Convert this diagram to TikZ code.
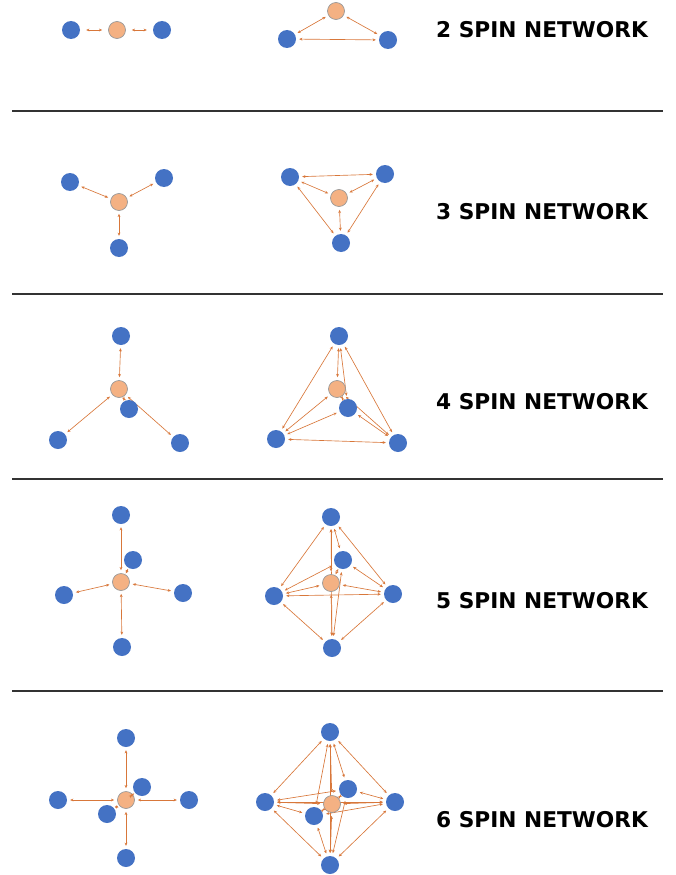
\documentclass[tikz,border=0pt]{standalone}
\usepackage{fontspec}
\setmainfont{DejaVu Sans}
\usetikzlibrary{arrows.meta,backgrounds}
\definecolor{sblue}{HTML}{4472C4}
\definecolor{sorange}{HTML}{F4B183}
\definecolor{sline}{HTML}{D8773A}
\begin{document}
\begin{tikzpicture}[x=1pt,y=-1pt,
  spin/.style={circle,fill=sblue,draw=none,minimum size=18pt,inner sep=0pt},
  ctr/.style={circle,fill=sorange,draw=black!40,line width=0.7pt,minimum size=17pt,inner sep=0pt},
  link/.style={draw=sline,line width=0.65pt,{Stealth[length=3.2pt,width=2.8pt]}-{Stealth[length=3.2pt,width=2.8pt]},shorten <=3pt,shorten >=3pt},
  nettitle/.style={font=\bfseries\fontsize{21.7}{26}\selectfont,inner sep=0pt},
  sepline/.style={line width=1.2pt,draw=black!80}]
\useasboundingbox (0,0) rectangle (675,875);

% separators
\draw[sepline] (12,111) -- (663,111);
\draw[sepline] (12,294) -- (663,294);
\draw[sepline] (12,479) -- (663,479);
\draw[sepline] (12,691) -- (663,691);

% titles
\node[nettitle] (t2) at (542,30) {2 SPIN NETWORK};
\node[nettitle] (t3) at (542,212) {3 SPIN NETWORK};
\node[nettitle] (t4) at (542,402) {4 SPIN NETWORK};
\node[nettitle] (t5) at (542,601) {5 SPIN NETWORK};
\node[nettitle] (t6) at (542,820) {6 SPIN NETWORK};

% ---------- 2 spin ----------
\node[spin] (aL1) at (71,30) {};
\node[ctr]  (aLo) at (117,30) {};
\node[spin] (aL2) at (162,30) {};
\draw[link,shorten <=6pt,shorten >=6pt] (aL1) -- (aLo);
\draw[link,shorten <=6pt,shorten >=6pt] (aLo) -- (aL2);

\node[ctr]  (aRo) at (336,11) {};
\node[spin] (aR1) at (287,39) {};
\node[spin] (aR2) at (388,40) {};
\begin{scope}[on background layer]
\foreach \p/\q in {aRo/aR1,aRo/aR2,aR1/aR2} \draw[link] (\p) -- (\q);
\end{scope}

% ---------- 3 spin ----------
\node[spin] (bL1) at (70,182) {};
\node[spin] (bL2) at (164,178) {};
\node[ctr]  (bLo) at (119,202) {};
\node[spin] (bL3) at (119,248) {};
\begin{scope}[on background layer]
\foreach \q in {bL1,bL2,bL3} \draw[link] (bLo) -- (\q);
\end{scope}

\node[spin] (bR1) at (290,177) {};
\node[spin] (bR2) at (385,174) {};
\node[ctr]  (bRo) at (339,198) {};
\node[spin] (bR3) at (341,243) {};
\begin{scope}[on background layer]
\foreach \p/\q in {bR1/bR2,bR1/bRo,bR1/bR3,bR2/bRo,bR2/bR3,bRo/bR3} \draw[link] (\p) -- (\q);
\end{scope}

% ---------- 4 spin ----------
\node[spin] (cLt) at (121,336) {};
\node[ctr]  (cLo) at (119,389) {};
\node[spin] (cLm) at (129,409) {};
\node[spin] (cLl) at (58,440) {};
\node[spin] (cLr) at (180,443) {};
\begin{scope}[on background layer]
\foreach \q in {cLt,cLl,cLr} \draw[link] (cLo) -- (\q);
\end{scope}
\draw[link,shorten <=1pt,shorten >=1pt] (cLo) -- (cLm);

\node[spin] (cRt) at (339,336) {};
\node[ctr]  (cRo) at (337,389) {};
\node[spin] (cRm) at (348,408) {};
\node[spin] (cRl) at (276,439) {};
\node[spin] (cRr) at (398,443) {};
\begin{scope}[on background layer]
\foreach \p/\q in {cRt/cRo,cRt/cRm,cRt/cRl,cRt/cRr,cRo/cRl,cRo/cRr,cRm/cRl,cRm/cRr,cRl/cRr} \draw[link] (\p) -- (\q);
\end{scope}
\draw[link,shorten <=1pt,shorten >=1pt] (cRo) -- (cRm);

% ---------- 5 spin ----------
\node[spin] (dLt) at (121,515) {};
\node[spin] (dLm) at (133,560) {};
\node[ctr]  (dLo) at (121,582) {};
\node[spin] (dLl) at (64,595) {};
\node[spin] (dLr) at (183,593) {};
\node[spin] (dLb) at (122,647) {};
\begin{scope}[on background layer]
\foreach \q in {dLt,dLl,dLr,dLb} \draw[link] (dLo) -- (\q);
\end{scope}
\draw[link,shorten <=1pt,shorten >=1pt] (dLo) -- (dLm);

\node[spin] (dRt) at (331,517) {};
\node[spin] (dRm) at (343,560) {};
\node[ctr]  (dRo) at (331,583) {};
\node[spin] (dRl) at (274,596) {};
\node[spin] (dRr) at (393,594) {};
\node[spin] (dRb) at (332,648) {};
\begin{scope}[on background layer]
\foreach \p/\q in {dRt/dRm,dRt/dRo,dRt/dRl,dRt/dRr,dRt/dRb,dRm/dRl,dRm/dRr,dRm/dRb,dRo/dRl,dRo/dRr,dRo/dRb,dRl/dRr,dRl/dRb,dRr/dRb} \draw[link] (\p) -- (\q);
\end{scope}
\draw[link,shorten <=1pt,shorten >=1pt] (dRo) -- (dRm);

% ---------- 6 spin ----------
\node[spin] (eLt) at (126,738) {};
\node[spin] (eLu) at (142,787) {};
\node[ctr]  (eLo) at (126,800) {};
\node[spin] (eLl) at (58,800) {};
\node[spin] (eLr) at (189,800) {};
\node[spin] (eLw) at (107,814) {};
\node[spin] (eLb) at (126,858) {};
\begin{scope}[on background layer]
\foreach \q in {eLt,eLl,eLr,eLb} \draw[link] (eLo) -- (\q);
\end{scope}
\draw[link,shorten <=1pt,shorten >=1pt] (eLo) -- (eLu);
\draw[link,shorten <=1pt,shorten >=1pt] (eLo) -- (eLw);

\node[spin] (eRt) at (330,732) {};
\node[spin] (eRu) at (348,789) {};
\node[ctr]  (eRo) at (332,804) {};
\node[spin] (eRl) at (265,802) {};
\node[spin] (eRr) at (395,802) {};
\node[spin] (eRw) at (314,816) {};
\node[spin] (eRb) at (330,865) {};
\begin{scope}[on background layer]
\foreach \p/\q in {eRt/eRu,eRt/eRo,eRt/eRl,eRt/eRr,eRt/eRw,eRt/eRb,
                   eRu/eRl,eRu/eRr,eRu/eRw,eRu/eRb,
                   eRo/eRl,eRo/eRr,eRo/eRb,
                   eRl/eRr,eRl/eRw,eRl/eRb,
                   eRr/eRw,eRr/eRb,eRw/eRb} \draw[link] (\p) -- (\q);
\end{scope}
\draw[link,shorten <=1pt,shorten >=1pt] (eRo) -- (eRu);
\draw[link,shorten <=1pt,shorten >=1pt] (eRo) -- (eRw);
\end{tikzpicture}
\end{document}
